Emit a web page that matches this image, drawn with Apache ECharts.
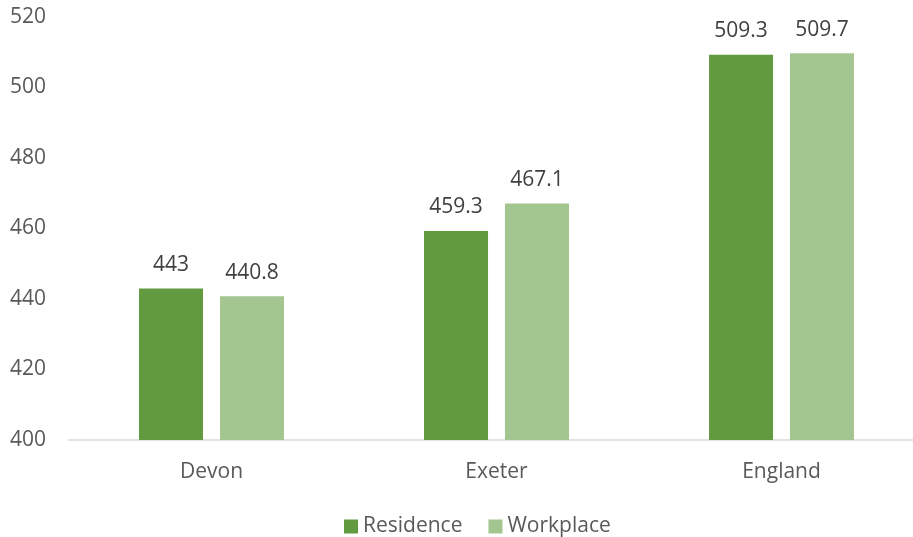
<!DOCTYPE html>
<html>
<head>
<meta charset="utf-8">
<script src="https://cdn.jsdelivr.net/npm/echarts@6/dist/echarts.min.js"></script>
<style>
  html, body { margin: 0; padding: 0; background: #ffffff; overflow: hidden; }
  #chart { width: 930px; height: 537px; }
</style>
</head>
<body>
<div id="chart"></div>
<script>
// Areas compared
const categories = ['Devon', 'Exeter', 'England'];
// Median weekly earnings by place of residence and by place of work
const residence = [443, 459.3, 509.3];
const workplace = [440.8, 467.1, 509.7];
// Value axis range
const yMin = 400;
const yMax = 520;
const yStep = 20;

const FONT = '"Open Sans", "Noto Sans", sans-serif';

const chart = echarts.init(document.getElementById('chart'), null, { renderer: 'canvas' });

const labelStyle = {
  show: true,
  position: 'top',
  distance: 13,
  color: '#404040',
  fontFamily: FONT,
  fontSize: 21
};

chart.setOption({
  animation: false,
  backgroundColor: '#ffffff',
  grid: { left: 69, top: 17, width: 855, height: 423, containLabel: false },
  legend: {
    left: 344,
    top: 516,
    padding: 0,
    itemWidth: 14,
    itemHeight: 14,
    itemGap: 26,
    icon: 'rect',
    textStyle: { color: '#595959', fontFamily: FONT, fontSize: 21 },
    data: ['Residence', 'Workplace']
  },
  xAxis: {
    type: 'category',
    data: categories,
    axisLine: { show: true, lineStyle: { color: '#d9d9d9', width: 1.5 } },
    axisTick: { show: false },
    axisLabel: { color: '#595959', fontFamily: FONT, fontSize: 21, margin: 22 },
    splitLine: { show: false }
  },
  yAxis: {
    type: 'value',
    min: yMin,
    max: yMax,
    interval: yStep,
    axisLine: { show: false },
    axisTick: { show: false },
    splitLine: { show: false },
    axisLabel: { color: '#595959', fontFamily: FONT, fontSize: 21, margin: 23 }
  },
  series: [
    {
      name: 'Residence',
      type: 'bar',
      data: residence,
      barWidth: 64,
      barGap: '26.5%',
      itemStyle: { color: '#619a3f' },
      label: labelStyle
    },
    {
      name: 'Workplace',
      type: 'bar',
      data: workplace,
      barWidth: 64,
      barGap: '26.5%',
      itemStyle: { color: '#a3c590' },
      label: labelStyle
    }
  ]
});
</script>
</body>
</html>
